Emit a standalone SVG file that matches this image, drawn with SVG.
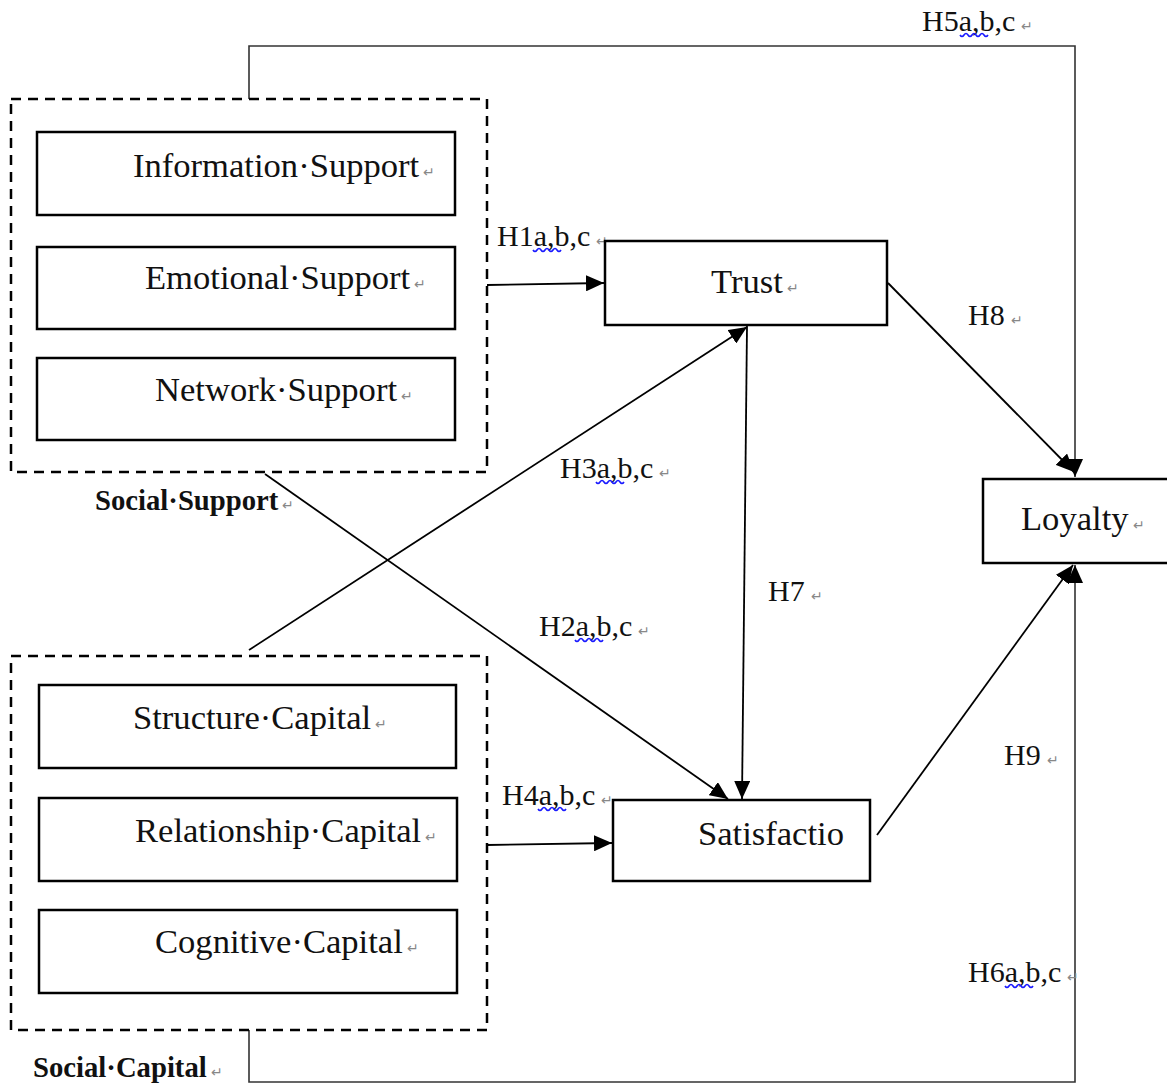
<svg xmlns="http://www.w3.org/2000/svg" width="1167" height="1084" viewBox="0 0 1167 1084">
<style>
.box{fill:#fff;stroke:#000;stroke-width:2.5}
.grp{fill:none;stroke:#000;stroke-width:2.5;stroke-dasharray:10 7}
.t{font-family:"Liberation Serif","Times New Roman",serif;font-size:34.6px;fill:#111}
.h{font-family:"Liberation Serif","Times New Roman",serif;font-size:30px;fill:#111}
.b{font-family:"Liberation Serif","Times New Roman",serif;font-size:28.7px;font-weight:bold;fill:#111}
.pm{font-size:14px;fill:#888}
.c{fill:none;stroke:#000;stroke-width:1.8}
.c2{fill:none;stroke:#333;stroke-width:1.6}
.w{fill:none;stroke:#1a1aff;stroke-width:1.6}
</style>
<defs>
<marker id="ar" markerUnits="userSpaceOnUse" markerWidth="20" markerHeight="16" refX="18" refY="8" orient="auto">
<path d="M0,0 L18,8 L0,16 Z" fill="#000"/>
</marker>
</defs>
<g id="connectors">
<path class="c2" d="M249,99 V46 H1075 V477" marker-end="url(#ar)"/>
<path class="c2" d="M249,1030 V1082 H1075 V565" marker-end="url(#ar)"/>
<path class="c" d="M487,285 L604,283" marker-end="url(#ar)"/>
<path class="c" d="M487,845 L612,843" marker-end="url(#ar)"/>
<path class="c" d="M888,283 L1074,472" marker-end="url(#ar)"/>
<path class="c" d="M877,835 L1073,565" marker-end="url(#ar)"/>
<path class="c" d="M747,326 L742,799" marker-end="url(#ar)"/>
<path class="c" d="M249,650 L747,327" marker-end="url(#ar)"/>
<path class="c" stroke-width="1.4" d="M265,474 L728,799" marker-end="url(#ar)"/>
</g>
<g id="labels">
<text class="h" x="922" y="31">H5a,b,c<tspan class="pm" dx="6">↵</tspan></text>
<path class="w" d="M960,35 q2,3 4,0 t4,0 t4,0 t4,0 t4,0 t4,0 t4,0"/>
<text class="h" x="497" y="246">H1a,b,c<tspan class="pm" dx="6">↵</tspan></text>
<path class="w" d="M533,250 q2,3 4,0 t4,0 t4,0 t4,0 t4,0 t4,0 t4,0"/>
<text class="h" x="968" y="325">H8<tspan class="pm" dx="6">↵</tspan></text>
<text class="h" x="560" y="478">H3a,b,c<tspan class="pm" dx="6">↵</tspan></text>
<path class="w" d="M596,482 q2,3 4,0 t4,0 t4,0 t4,0 t4,0 t4,0 t4,0"/>
<text class="h" x="768" y="601">H7<tspan class="pm" dx="6">↵</tspan></text>
<text class="h" x="539" y="636">H2a,b,c<tspan class="pm" dx="6">↵</tspan></text>
<path class="w" d="M575,640 q2,3 4,0 t4,0 t4,0 t4,0 t4,0 t4,0 t4,0"/>
<text class="h" x="1004" y="765">H9<tspan class="pm" dx="6">↵</tspan></text>
<text class="h" x="502" y="805">H4a,b,c<tspan class="pm" dx="6">↵</tspan></text>
<path class="w" d="M538,809 q2,3 4,0 t4,0 t4,0 t4,0 t4,0 t4,0 t4,0"/>
<text class="h" x="968" y="982">H6a,b,c<tspan class="pm" dx="6">↵</tspan></text>
<path class="w" d="M1005,986 q2,3 4,0 t4,0 t4,0 t4,0 t4,0 t4,0 t4,0"/>
</g>
<g id="social-support">
<rect class="grp" x="11" y="99" width="476" height="373"/>
<text class="b" x="95" y="510">Social·Support<tspan class="pm" dx="4" font-weight="normal">↵</tspan></text>
</g>
<g id="information-support">
<rect class="box" x="37" y="132" width="418" height="83"/>
<text class="t" x="133" y="177">Information·Support<tspan class="pm" dx="4">↵</tspan></text>
</g>
<g id="emotional-support">
<rect class="box" x="37" y="247" width="418" height="82"/>
<text class="t" x="145" y="289">Emotional·Support<tspan class="pm" dx="4">↵</tspan></text>
</g>
<g id="network-support">
<rect class="box" x="37" y="358" width="418" height="82"/>
<text class="t" x="155" y="401">Network·Support<tspan class="pm" dx="4">↵</tspan></text>
</g>
<g id="social-capital">
<rect class="grp" x="11" y="656" width="476" height="374"/>
<text class="b" x="33" y="1077">Social·Capital<tspan class="pm" dx="4" font-weight="normal">↵</tspan></text>
</g>
<g id="structure-capital">
<rect class="box" x="39" y="685" width="417" height="83"/>
<text class="t" x="133" y="729">Structure·Capital<tspan class="pm" dx="4">↵</tspan></text>
</g>
<g id="relationship-capital">
<rect class="box" x="39" y="798" width="418" height="83"/>
<text class="t" x="135" y="842">Relationship·Capital<tspan class="pm" dx="4">↵</tspan></text>
</g>
<g id="cognitive-capital">
<rect class="box" x="39" y="910" width="418" height="83"/>
<text class="t" x="155" y="953">Cognitive·Capital<tspan class="pm" dx="4">↵</tspan></text>
</g>
<g id="trust">
<rect class="box" x="605" y="241" width="282" height="84"/>
<text class="t" x="711" y="293">Trust<tspan class="pm" dx="4">↵</tspan></text>
</g>
<g id="satisfaction">
<rect class="box" x="613" y="800" width="257" height="81"/>
<text class="t" x="698" y="845">Satisfactio</text>
</g>
<g id="loyalty">
<rect class="box" x="983" y="479" width="190" height="84"/>
<text class="t" x="1021" y="530">Loyalty<tspan class="pm" dx="4">↵</tspan></text>
</g>
</svg>
